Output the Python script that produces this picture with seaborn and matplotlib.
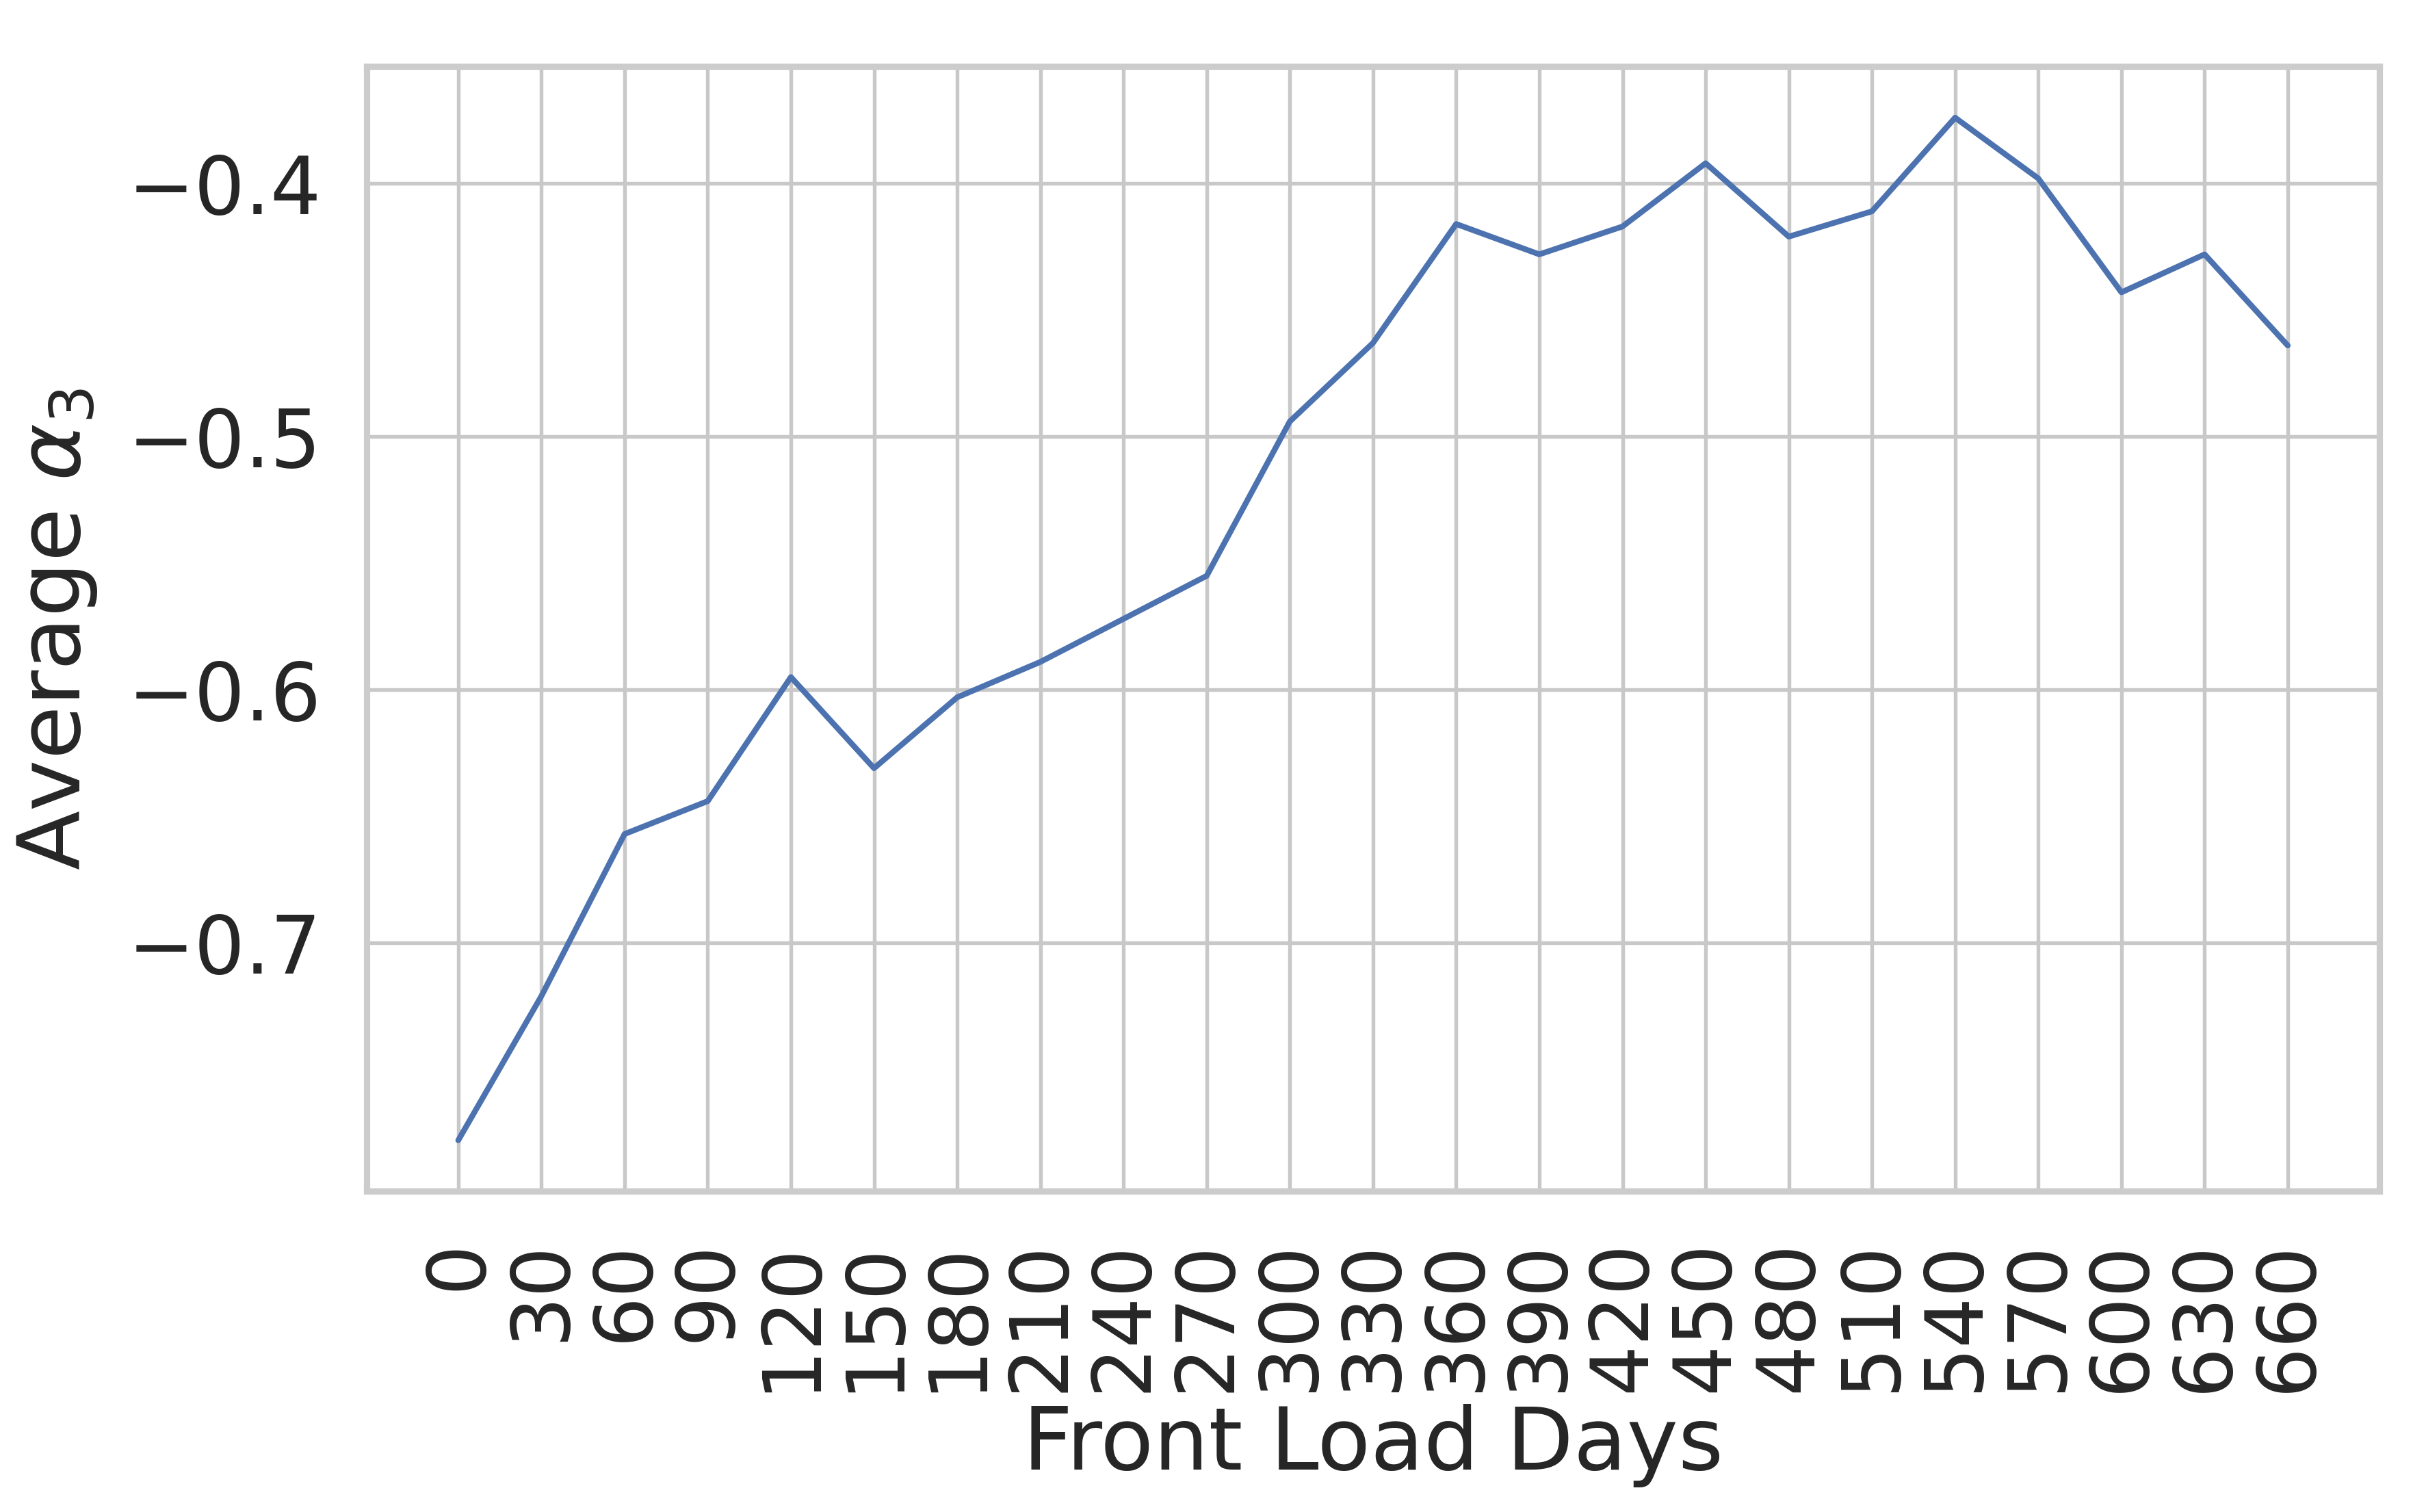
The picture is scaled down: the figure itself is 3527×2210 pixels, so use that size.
import matplotlib
matplotlib.use("Agg")
import matplotlib.pyplot as plt
import seaborn as sns
import pandas as pd

# Front load days and average alpha_3
front_load_days = [0, 30, 60, 90, 120, 150, 180, 210, 240, 270, 300,
                   330, 360, 390, 420, 450, 480, 510, 540, 570, 600, 630, 660]
avg_alpha3 = [-0.778, -0.721, -0.657, -0.644, -0.595, -0.631, -0.603, -0.589,
              -0.572, -0.555, -0.494, -0.463, -0.416, -0.428, -0.417, -0.392,
              -0.421, -0.411, -0.374, -0.398, -0.443, -0.428, -0.464]

df = pd.DataFrame({'days': front_load_days, 'alpha3': avg_alpha3})

sns.set_theme(style='whitegrid')
plt.rcParams['axes.edgecolor'] = '#cccccc'
plt.rcParams['axes.linewidth'] = 2.2
plt.rcParams['grid.linewidth'] = 1.3
plt.rcParams['grid.color'] = '#c8c8c8'

fig, ax = plt.subplots(figsize=(3527 / 300, 2210 / 300), dpi=300)
fig.subplots_adjust(left=0.152, right=0.986, top=0.956, bottom=0.212)

sns.lineplot(x='days', y='alpha3', data=df, ax=ax, color='#4c72b0', linewidth=2.0)

ax.set_xticks(front_load_days)
ax.set_xticklabels([str(d) for d in front_load_days], rotation=90)
ax.set_yticks([-0.7, -0.6, -0.5, -0.4])
ax.tick_params(axis='both', labelsize=28, colors='#262626', length=0)
ax.tick_params(axis='y', pad=16)
ax.tick_params(axis='x', pad=17)
ax.set_xlabel('Front Load Days', fontsize=30.5, color='#262626', labelpad=4)
ax.set_ylabel(r'Average $\alpha_3$', fontsize=30.5, color='#262626', labelpad=10)

fig.savefig('out.png', dpi=300)
